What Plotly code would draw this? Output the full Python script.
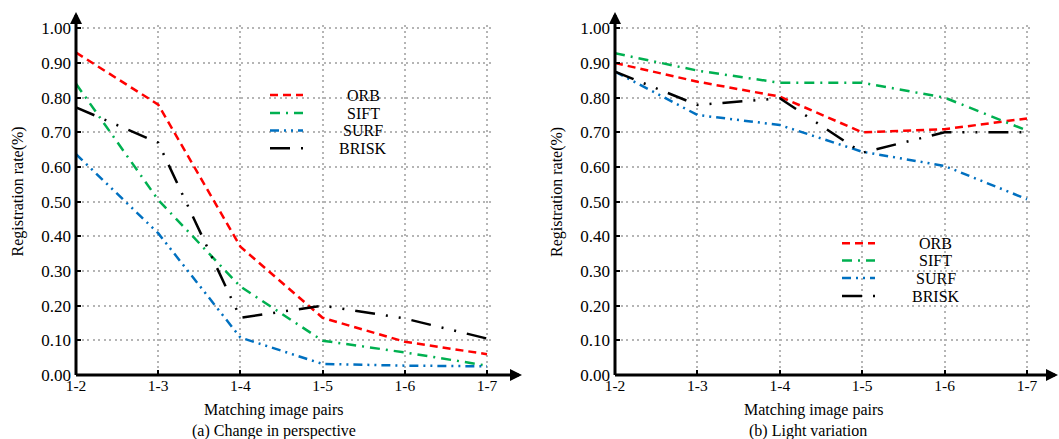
import plotly.graph_objects as go

W, H = 1059, 439

pairs = ["1-2", "1-3", "1-4", "1-5", "1-6", "1-7"]
y_ticks = [0.0, 0.1, 0.2, 0.3, 0.4, 0.5, 0.6, 0.7, 0.8, 0.9, 1.0]

# (a) Change in perspective
orb_a = [0.93, 0.78, 0.37, 0.165, 0.096, 0.060]
sift_a = [0.84, 0.505, 0.255, 0.099, 0.065, 0.027]
surf_a = [0.637, 0.409, 0.108, 0.032, 0.027, 0.025]
brisk_a = [0.772, 0.67, 0.165, 0.20, 0.163, 0.105]

# (b) Light variation
orb_b = [0.90, 0.846, 0.803, 0.70, 0.709, 0.740]
sift_b = [0.928, 0.878, 0.843, 0.843, 0.80, 0.705]
surf_b = [0.875, 0.75, 0.721, 0.644, 0.603, 0.507]
brisk_b = [0.875, 0.779, 0.798, 0.641, 0.70, 0.70]

names = ["ORB", "SIFT", "SURF", "BRISK"]
colors = ["#FF0000", "#00B050", "#0070C0", "#000000"]
dashes = ["8px,5px", "10px,6px,2px,6px", "9px,5px,2px,5px,2px,5px",
          "20px,11px,2px,11px,2px,11px"]

FONT = "Liberation Serif"


def px(x):
    return x / W


def py(y):
    return 1 - y / H


fig = go.Figure()

series_a = [orb_a, sift_a, surf_a, brisk_a]
series_b = [orb_b, sift_b, surf_b, brisk_b]
for i, n in enumerate(names):
    fig.add_trace(go.Scatter(x=pairs, y=series_a[i], mode="lines", name=n,
                             line=dict(color=colors[i], width=2.5, dash=dashes[i]),
                             xaxis="x", yaxis="y", showlegend=False))
    fig.add_trace(go.Scatter(x=pairs, y=series_b[i], mode="lines", name=n,
                             line=dict(color=colors[i], width=2.5, dash=dashes[i]),
                             xaxis="x2", yaxis="y2", showlegend=False))

# pixel geometry (page pixels)
y0_px, y1_px = 375.0, 28.3          # 0.00 and 1.00
ytop_px = 25.0
unit_y = (y0_px - y1_px)
ytop_val = 1 + (y1_px - ytop_px) / unit_y

panels = [
    dict(ax0=76.0, x7=487.0, xr=491.0),
    dict(ax0=615.0, x7=1027.0, xr=1031.0),
]

ydom = [py(y0_px), py(ytop_px)]
common_x = dict(type="category", categoryorder="array", categoryarray=pairs,
                showgrid=True, gridcolor="#b5b5b5", gridwidth=1.5, griddash="2px,3.5px",
                zeroline=False, showline=False, ticks="inside", ticklen=5,
                tickwidth=1.5, tickcolor="black", ticklabelstandoff=-1,
                tickfont=dict(family=FONT, size=15.5, color="black"), automargin=False)
common_y = dict(range=[0, ytop_val], tickvals=y_ticks, tickformat=".2f",
                showgrid=True, gridcolor="#b5b5b5", gridwidth=1.5, griddash="2px,3.5px",
                zeroline=False, showline=False, ticks="inside", ticklen=5,
                tickwidth=1.5, tickcolor="black", domain=ydom, ticklabelstandoff=4,
                tickfont=dict(family=FONT, size=17, color="black"), automargin=False)

xs = []
for p in panels:
    sp = (p["x7"] - p["ax0"]) / 5.0
    xs.append(dict(domain=[px(p["ax0"]), px(p["xr"])],
                   range=[0, 5 + (p["xr"] - p["x7"]) / sp]))

fig.update_layout(
    width=W, height=H,
    margin=dict(l=0, r=0, t=0, b=0),
    paper_bgcolor="white", plot_bgcolor="white",
    xaxis=dict(common_x, **xs[0], anchor="y"),
    yaxis=dict(common_y, anchor="x"),
    xaxis2=dict(common_x, **xs[1], anchor="y2"),
    yaxis2=dict(common_y, anchor="x2"),
    showlegend=False,
)

annotations = []
shapes = []

for k, p in enumerate(panels):
    ax0 = p["ax0"]
    # y axis with arrow
    annotations.append(dict(x=px(ax0), y=py(12), xref="paper", yref="paper",
                            ax=0, ay=y0_px - 12 + 1.5, text="", showarrow=True,
                            arrowhead=2, arrowsize=0.8, arrowwidth=3, arrowcolor="black"))
    # x axis with arrow
    xend = ax0 + 446
    annotations.append(dict(x=px(xend), y=py(y0_px), xref="paper", yref="paper",
                            ax=-(xend - ax0) - 1.5, ay=0, text="", showarrow=True,
                            arrowhead=2, arrowsize=0.8, arrowwidth=3, arrowcolor="black"))

tfont = dict(family=FONT, size=16, color="black")


def label(x, y, text, angle=0):
    return dict(x=px(x), y=py(y), xref="paper", yref="paper", text=text,
                textangle=angle, showarrow=False, xanchor="center", yanchor="middle",
                font=tfont)


annotations += [
    label(17.5, 192, "Registration rate(%)", -90),
    label(557, 192, "Registration rate(%)", -90),
    label(274, 410, "Matching image pairs"),
    label(274, 431, "(a) Change in perspective"),
    label(814, 410, "Matching image pairs"),
    label(808, 431, "(b) Light variation"),
]

# manual legends
legends = [
    dict(x0=270, x1=303, tx=363, ys=[95, 113, 130.5, 148.3]),
    dict(x0=842, x1=875, tx=935.5, ys=[243.3, 260.5, 278, 296]),
]
for lg in legends:
    for i, n in enumerate(names):
        yy = lg["ys"][i]
        shapes.append(dict(type="line", xref="paper", yref="paper",
                           x0=px(lg["x0"]), x1=px(lg["x1"]), y0=py(yy), y1=py(yy),
                           line=dict(color=colors[i], width=2.5, dash=dashes[i])))
        annotations.append(label(lg["tx"], yy, n))

fig.update_layout(annotations=annotations, shapes=shapes)

fig.write_html(
    "out.html",
    config={"displayModeBar": False},
    post_script="document.body.style.margin='0';document.body.style.overflow='hidden';",
)
